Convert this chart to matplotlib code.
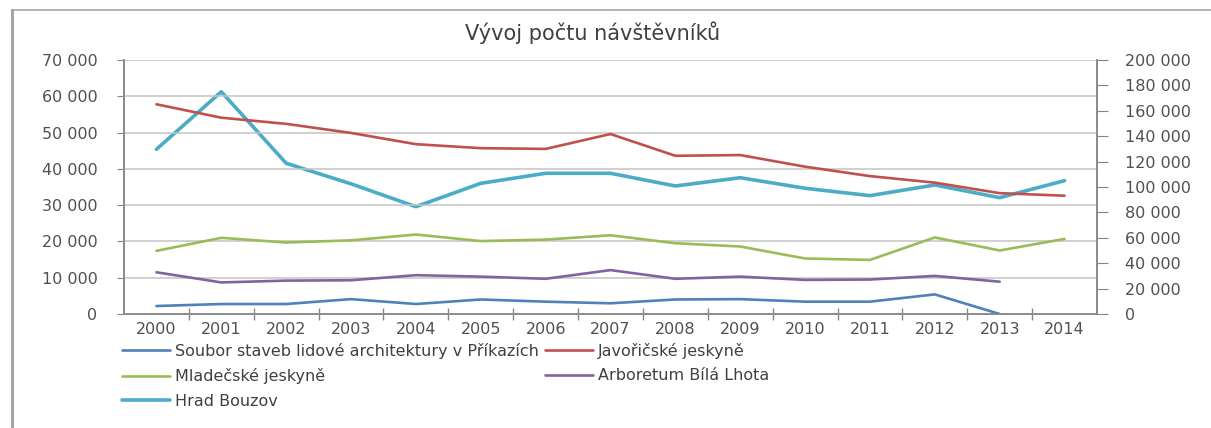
import numpy as np
import matplotlib
matplotlib.use("Agg")
import matplotlib.pyplot as plt
from matplotlib.ticker import FuncFormatter, FixedLocator, MultipleLocator
from matplotlib.lines import Line2D

years = ["2000", "2001", "2002", "2003", "2004", "2005", "2006", "2007",
         "2008", "2009", "2010", "2011", "2012", "2013", "2014"]

soubor = [2200, 2750, 2750, 4100, 2750, 4000, 3400, 2950, 4000, 4100,
          3400, 3400, 5400, 0, np.nan]
javoricske = [57800, 54100, 52400, 49900, 46800, 45700, 45500, 49600,
              43600, 43800, 40600, 38000, 36200, 33300, 32600]
mladecske = [17400, 21000, 19700, 20300, 21900, 20100, 20500, 21700,
             19500, 18600, 15300, 14900, 21100, 17500, 20700]
arboretum = [11500, 8700, 9200, 9300, 10700, 10300, 9700, 12100,
             9700, 10300, 9400, 9500, 10500, 8900, np.nan]
# Hrad Bouzov is plotted on the secondary (right) axis
bouzov = [129700, 175000, 118700, 102500, 84500, 102900, 110800, 110800,
          100800, 107300, 99000, 93200, 101600, 91600, 105000]

names = ["Soubor staveb lidové architektury v Příkazích", "Javořičské jeskyně",
         "Mladečské jeskyně", "Arboretum Bílá Lhota", "Hrad Bouzov"]
colors = ["#4F81BD", "#C0504D", "#9BBB59", "#8064A2", "#4BACC6"]

W, H = 1211, 428
fig = plt.figure(figsize=(W / 100, H / 100), dpi=100)
fig.patch.set_facecolor("white")

ax = fig.add_axes([124 / W, 1 - 314 / H, (1097 - 124) / W, (314 - 60) / H])
ax2 = ax.twinx()

x = np.arange(len(years))
txtc = "#404040"
tickc = "#505050"
axc = "#868686"

h1, = ax.plot(x, soubor, color=colors[0], lw=1.9, solid_capstyle="round")
h2, = ax.plot(x, javoricske, color=colors[1], lw=1.9, solid_capstyle="round")
h3, = ax.plot(x, mladecske, color=colors[2], lw=1.9, solid_capstyle="round")
h4, = ax.plot(x, arboretum, color=colors[3], lw=1.9, solid_capstyle="round")
h5, = ax2.plot(x, bouzov, color=colors[4], lw=2.6, solid_capstyle="round")

ax.set_xlim(-0.5, len(years) - 0.5)
ax.set_ylim(0, 70000)
ax2.set_ylim(0, 200000)

fmt = FuncFormatter(lambda v, p: f"{int(round(v)):,}".replace(",", " "))
ax.yaxis.set_major_locator(MultipleLocator(10000))
ax2.yaxis.set_major_locator(MultipleLocator(20000))
ax.yaxis.set_major_formatter(fmt)
ax2.yaxis.set_major_formatter(fmt)

ax.set_xticks(x)
ax.set_xticklabels(years)
ax.xaxis.set_minor_locator(FixedLocator(np.arange(0.5, len(years) - 1, 1.0)))
ax.tick_params(axis="x", which="major", length=0, pad=6, labelsize=11.5,
               labelcolor=tickc)
ax.tick_params(axis="x", which="minor", length=8, direction="inout",
               color=axc, width=1)
ax.tick_params(axis="y", length=5, color=axc, pad=14, labelsize=11.5,
               labelcolor=tickc)
ax2.tick_params(axis="y", length=8, color=axc, pad=12, labelsize=11.5,
                labelcolor=tickc)

ax.grid(axis="y", color="#C4C4C4", lw=1.1)
ax.set_axisbelow(True)
for a in (ax, ax2):
    a.spines["top"].set_visible(False)
    for s in ("left", "right", "bottom"):
        a.spines[s].set_color(axc)
        a.spines[s].set_linewidth(1.1)
ax.set_zorder(ax2.get_zorder() + 1)
ax.patch.set_visible(False)

fig.text(593 / W, 1 - 33 / H, "Vývoj počtu návštěvníků", ha="center",
         va="center", fontsize=15, color=txtc)

handles = [h1, h3, h5, h2, h4]
labels = [names[0], names[2], names[4], names[1], names[3]]
leg = fig.legend(handles, labels, ncol=2, loc="upper left",
                 bbox_to_anchor=(122 / W, 1 - 343 / H), frameon=False,
                 fontsize=11.5, handlelength=3.0, handletextpad=0.3,
                 columnspacing=0.4, labelspacing=0.58, borderaxespad=0,
                 borderpad=0)
for t in leg.get_texts():
    t.set_color(txtc)

# outer chart-area border (left and top edges visible)
fig.add_artist(Line2D([12 / W, 12 / W], [0, 1 - 10 / H], transform=fig.transFigure,
                      color="#A6A6A6", lw=2.2))
fig.add_artist(Line2D([12 / W, 1], [1 - 10 / H, 1 - 10 / H], transform=fig.transFigure,
                      color="#A6A6A6", lw=1.2))

fig.savefig("out.png", dpi=100, facecolor="white")
